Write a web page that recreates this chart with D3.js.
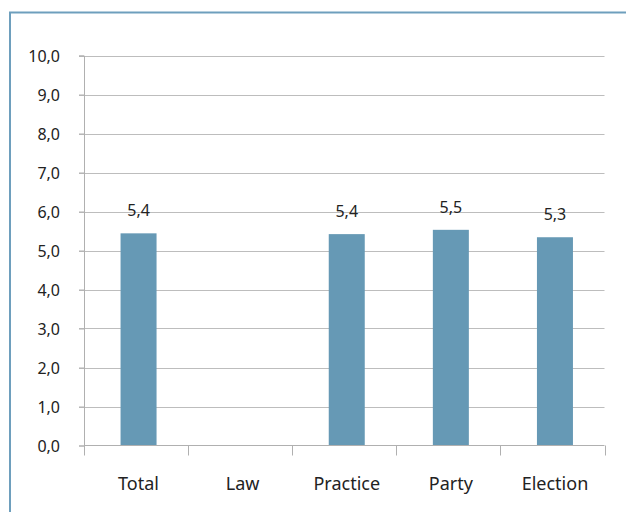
<!DOCTYPE html>
<html><head><meta charset="utf-8">
<script src="https://cdn.jsdelivr.net/npm/d3@7"></script>
<style>body{margin:0;background:#fff}svg{display:block}</style>
</head><body>
<script>
const categories = ["Total", "Law", "Practice", "Party", "Election"];
const values = [5.44, null, 5.42, 5.53, 5.34];
const yTicks = [0,1,2,3,4,5,6,7,8,9,10];

const W = 626, H = 512;
const svg = d3.select("body").append("svg").attr("width", W).attr("height", H);
const font = "'Noto Sans', 'Open Sans', sans-serif";

// frame
svg.append("path").attr("d", `M10,${H} L10,12.5 L${W},12.5`)
  .attr("fill","none").attr("stroke","#6e9fbd").attr("stroke-width",2);

const x0 = 84, x1 = 604.5, y0 = 445.5, y1 = 55.5;
const shift = 2.5;
const x = d3.scaleBand().domain(categories).range([x0, x1]).paddingInner(0).paddingOuter(0);
const y = d3.scaleLinear().domain([0,10]).range([y0, y1]);
const fmt = v => v.toFixed(1).replace(".", ",");

// gridlines
svg.append("g").selectAll("line").data(yTicks.filter(d=>d>0)).join("line")
  .attr("x1", x0-5).attr("x2", x1).attr("y1", d=>Math.round(y(d))+0.5).attr("y2", d=>Math.round(y(d))+0.5)
  .attr("stroke","#bdbdbd").attr("stroke-width",1);

// y axis
const yAxis = svg.append("g").attr("transform", `translate(${x0},0)`)
  .call(d3.axisLeft(y).tickValues(yTicks).tickFormat(fmt).tickSize(5).tickPadding(19));
yAxis.select(".domain").attr("stroke","#b0b0b0");
yAxis.selectAll(".tick line").attr("stroke","#b0b0b0");
yAxis.selectAll("text").attr("font-family", font).attr("font-size", 16).attr("fill","#222").attr("dy","0.4em");

// bars
const bw = 36;
const data = categories.map((c,i)=>({c, v: values[i]})).filter(d=>d.v!=null);
svg.append("g").selectAll("rect").data(data).join("rect")
  .attr("x", d=>x(d.c)+x.bandwidth()/2-bw/2+shift).attr("width", bw)
  .attr("y", d=>y(d.v)).attr("height", d=>y0-y(d.v))
  .attr("fill","#6699b5");

// x axis
const xAxis = svg.append("g").attr("transform", `translate(${shift},${y0})`)
  .call(d3.axisBottom(x).tickSize(0).tickPadding(32));
xAxis.select(".domain").remove();
svg.append("line").attr("x1", x0).attr("x2", x1).attr("y1", y0).attr("y2", y0).attr("stroke","#b0b0b0");
xAxis.selectAll("text").attr("font-family", font).attr("font-size", 18).attr("fill","#222");
// category boundary ticks
svg.append("g").selectAll("line").data(categories.concat(["__end"])).join("line")
  .attr("x1", (d,i)=> i<categories.length ? Math.round(x(d))+0.5 : Math.round(x1)+0.5)
  .attr("x2", (d,i)=> i<categories.length ? Math.round(x(d))+0.5 : Math.round(x1)+0.5)
  .attr("y1", y0).attr("y2", y0+10).attr("stroke","#b0b0b0");

// labels
svg.append("g").selectAll("text").data(data).join("text")
  .attr("x", d=>x(d.c)+x.bandwidth()/2+shift).attr("y", d=>y(d.v)-17)
  .attr("text-anchor","middle").attr("font-family", font).attr("font-size", 16).attr("fill","#222")
  .text(d=>fmt(d.v));
</script>
</body></html>
